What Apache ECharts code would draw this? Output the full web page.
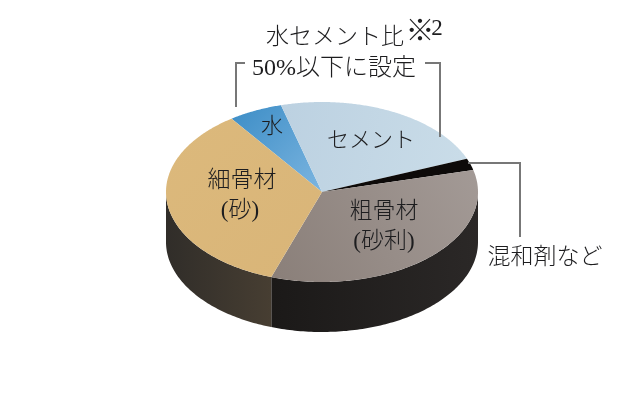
<!DOCTYPE html>
<html><head><meta charset="utf-8">
<style>html,body{margin:0;padding:0;background:#fff}#c{width:625px;height:400px}</style>
<script src="https://cdn.jsdelivr.net/npm/echarts@6/dist/echarts.min.js"></script>
</head><body><div id="c"></div>
<script>
// Data (share of the mix, %), clockwise from 水
var categories = ['水', 'セメント', '混和剤など', '粗骨材(砂利)', '細骨材(砂)'];
var values = [5.6, 23.2, 2.1, 34.2, 34.9];
var titleLine1 = '水セメント比';
var titleMark = '※';
var titleMarkNumber = '2';
var titleLine2 = '50%以下に設定';
var labelWater = '水';
var labelCement = 'セメント';
var labelFine = ['細骨材', '(砂)'];
var labelCoarse = ['粗骨材', '(砂利)'];
var labelOther = '混和剤など';

// Styles & geometry
var cx = 322, cy = 192, rx = 156, ry = 90, depth = 50, startDeg = -35.4;
function lin(x, y, x2, y2, a, b) {
  return {type: 'linear', x: x, y: y, x2: x2, y2: y2,
    colorStops: [{offset: 0, color: a}, {offset: 1, color: b}]};
}
var topFill = [
  lin(0, 0, 1, 1, '#3c8dc6', '#7cb5e0'),
  lin(0, 0, 1, 0.4, '#bcd1e1', '#c9dce8'),
  '#0d0a09',
  lin(0, 1, 1, 0, '#8a7f79', '#a39a96'),
  lin(0, 0, 1, 1, '#dcb97c', '#d9b578')
];
var sideFill = [
  '#222', '#222', '#222',
  lin(0, 0, 1, 0, '#1b1918', '#2b2827'),
  lin(0, 0, 1, 0, '#302d29', '#473e32')
];
var font = '"Liberation Serif","Noto Sans CJK JP",serif';
var cjkFont = '"Noto Sans CJK JP",serif';
var cum = [startDeg];
var total = values.reduce(function (a, b) { return a + b; }, 0);
values.forEach(function (v, i) { cum.push(cum[i] + v / total * 360); });
function pt(deg, dy) {
  var r = deg * Math.PI / 180;
  return [cx + rx * Math.sin(r), cy - ry * Math.cos(r) + (dy || 0)];
}
function renderItem(params) {
  var i = params.dataIndex, a = cum[i], b = cum[i + 1], children = [];
  // side wall: only the front half (90deg..270deg) can be seen
  var sa = Math.max(a, 90), sb = Math.min(b, 270), d, pts;
  if (sb > sa) {
    pts = [];
    for (d = sa; d < sb; d += 1) pts.push(pt(d));
    pts.push(pt(sb));
    for (d = sb; d > sa; d -= 1) pts.push(pt(d, depth));
    pts.push(pt(sa, depth));
    children.push({type: 'polygon', shape: {points: pts}, style: {fill: sideFill[i]}});
  }
  pts = [[cx, cy]];
  for (d = a; d < b; d += 0.5) pts.push(pt(d));
  pts.push(pt(b));
  children.push({type: 'polygon', shape: {points: pts}, style: {fill: topFill[i]}});
  return {type: 'group', children: children};
}
function txt(s, x, y, size, family) {
  return {type: 'text', x: x, y: y, z: 10, silent: true, style: {
    text: s, fill: '#1d1d1f', font: '300 ' + size + 'px ' + (family || font),
    textAlign: 'center', textVerticalAlign: 'middle'}};
}
function line(points) {
  return {type: 'polyline', z: 9, silent: true, shape: {points: points},
    style: {stroke: '#777', lineWidth: 2, fill: null}};
}
var chart = echarts.init(document.getElementById('c'), null, {renderer: 'canvas'});
chart.setOption({
  animation: false,
  backgroundColor: '#fff',
  series: [{
    type: 'custom', coordinateSystem: 'none', silent: true,
    renderItem: renderItem,
    data: values.map(function (v, i) { return {name: categories[i], value: v}; })
  }],
  graphic: [
    line([[236, 107], [236, 63], [245, 63]]),
    line([[425, 63], [440, 63], [440, 137]]),
    line([[468, 163], [520, 163], [520, 237]]),
    txt(titleLine1, 335, 38, 23),
    txt(titleMark, 420, 30, 29, cjkFont),
    txt(titleMarkNumber, 437, 29, 23),
    txt(titleLine2, 334, 69, 24),
    txt(labelWater, 272, 127, 22),
    txt(labelCement, 371, 141, 22),
    txt(labelFine[0], 242, 181, 23),
    txt(labelFine[1], 240, 211, 23),
    txt(labelCoarse[0], 384, 212, 23),
    txt(labelCoarse[1], 384, 242, 23),
    txt(labelOther, 545, 258, 23)
  ]
});
</script></body></html>
